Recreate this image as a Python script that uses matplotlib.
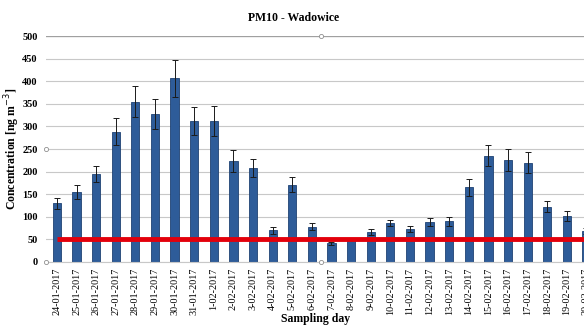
import matplotlib
matplotlib.use("Agg")
import matplotlib.pyplot as plt
from matplotlib.lines import Line2D
import numpy as np

# Data (PM10, Wadowice)
days = ["24-01-2017", "25-01-2017", "26-01-2017", "27-01-2017", "28-01-2017",
        "29-01-2017", "30-01-2017", "31-01-2017", "1-02-2017", "2-02-2017",
        "3-02-2017", "4-02-2017", "5-02-2017", "6-02-2017", "7-02-2017",
        "8-02-2017", "9-02-2017", "10-02-2017", "11-02-2017", "12-02-2017",
        "13-02-2017", "14-02-2017", "15-02-2017", "16-02-2017", "17-02-2017",
        "18-02-2017", "19-02-2017", "20-02-2017"]
pm10 = [130, 155, 195, 288, 355, 327, 407, 312, 312, 224,
        208, 70, 171, 78, 41, 52, 67, 86, 73, 88,
        90, 165, 235, 225, 220, 122, 102, 68]
err = [12, 15, 18, 30, 35, 33, 41, 31, 33, 24,
       20, 8, 17, 8, 3, 2, 7, 7, 7, 9,
       10, 18, 23, 24, 23, 12, 11, 7]
limit = 50
yticks = [0, 50, 100, 150, 200, 250, 300, 350, 400, 450, 500]

plt.rcParams['font.family'] = ['Liberation Serif', 'DejaVu Serif']

fig = plt.figure(figsize=(5.84, 3.25), dpi=100)
# axes runs past the right edge, the source image is cropped there
ax = fig.add_axes([0.079, 0.194, 0.942, 0.695])

x = np.arange(len(days))
ax.bar(x, pm10, width=0.42, color='#2e5c99', edgecolor='#1f4273', linewidth=0.6, zorder=2)
ax.errorbar(x, pm10, yerr=err, fmt='none', ecolor='#1a1a1a', elinewidth=0.7,
            capsize=2.5, capthick=0.7, zorder=3)
ax.plot([x[0], x[-1] + 1], [limit, limit], color='#e3000b', linewidth=3.5, zorder=4,
        solid_capstyle='butt')

ax.set_xlim(-0.55, len(days) - 0.5)
ax.set_ylim(0, 500)
ax.set_yticks(yticks)
ax.set_xticks(x)
ax.set_xticklabels(days, rotation=90, fontsize=7.3)
ax.tick_params(axis='y', labelsize=7.5, length=0, pad=6)
ax.tick_params(axis='x', length=0, pad=4)
for lab in ax.get_yticklabels():
    lab.set_fontweight('bold')

ax.grid(axis='y', color='#c8c8c8', linewidth=0.8, zorder=0)
ax.set_axisbelow(True)
for s in ['top', 'right', 'left']:
    ax.spines[s].set_visible(False)
ax.spines['bottom'].set_color('#c8c8c8')
ax.axhline(500, color='#a0a0a0', linewidth=0.9, zorder=1)

ax.set_ylabel("Concentration [ng m$^{-3}$]", fontsize=8.5, fontweight='bold')
ax.yaxis.set_label_coords(-0.044, 0.5)
ax.set_xlabel("Sampling day", fontsize=8.5, fontweight='bold')
ax.xaxis.set_label_coords(0.49, -0.225)
fig.text(0.503, 0.945, "PM10 - Wadowice", ha='center', va='center',
         fontsize=8.5, fontweight='bold')

# little selection handles seen in the source image
for fx, fy in [(0.079, 0.194), (0.079, 0.541), (0.55, 0.889), (0.55, 0.194)]:
    fig.add_artist(Line2D([fx], [fy], marker='o', markersize=3, markerfacecolor='white',
                          markeredgecolor='#909090', markeredgewidth=0.6,
                          transform=fig.transFigure))

fig.savefig("out.png", dpi=100)
